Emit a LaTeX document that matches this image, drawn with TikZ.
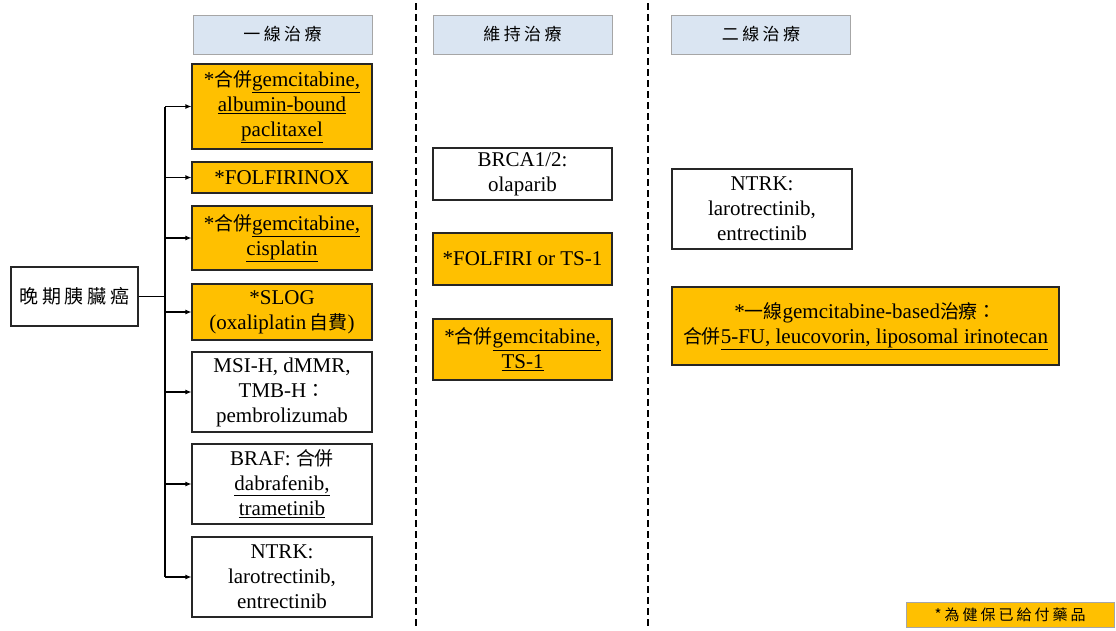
\documentclass[tikz,border=0pt]{standalone}
\usepackage{fontspec}
\setmainfont{Liberation Serif}
\newfontfamily\cjk[Scale=0.9]{Noto Sans CJK TC}
\newfontfamily\cjkwide[LetterSpace=20]{Noto Sans CJK TC}
\usetikzlibrary{arrows.meta}
\definecolor{drugorange}{HTML}{FFC000}
\definecolor{headblue}{HTML}{DAE5F2}
\definecolor{headline}{HTML}{A6A6A6}
\newcommand{\zh}[1]{{\cjk #1}}

\begin{document}
\begin{tikzpicture}[x=1pt,y=-1pt,
    white_box/.style={draw=black!85,line width=1.1pt,fill=white,align=center,inner sep=0pt,font=\fontsize{21}{25}\selectfont},
    orange_box/.style={white_box,fill=drugorange},
    head_box/.style={draw=headline,line width=1pt,fill=headblue,minimum width=179pt,minimum height=39pt,inner sep=0pt,font=\fontsize{17}{20}\cjkwide},
    link/.style={line width=1.1pt},
    split/.style={line width=1.2pt,dash pattern=on 7pt off 4pt}]
    \useasboundingbox (0,0) rectangle (1116,630);

    % column headers
    \node[head_box] (h1) at (282.5,34.5) {一線治療};
    \node[head_box] (h2) at (522.5,34.5) {維持治療};
    \node[head_box] (h3) at (761,34.5) {二線治療};

    \draw[split] (416,3) -- (416,627);
    \draw[split] (648,3) -- (648,627);

    % first line
    \node[white_box,minimum width=127pt,minimum height=59pt,font=\fontsize{19}{22}\cjkwide] (root) at (74.5,296.5) {晚期胰臟癌};
    \node[orange_box,minimum width=180pt,minimum height=85pt] (l1) at (282,106.5) {*\zh{合併}\underline{gemcitabine,}\\ \underline{albumin-bound}\\ \underline{paclitaxel}};
    \node[orange_box,minimum width=180pt,minimum height=31pt] (l2) at (282,177.5) {*FOLFIRINOX};
    \node[orange_box,minimum width=180pt,minimum height=64pt] (l3) at (282,238) {*\zh{合併}\underline{gemcitabine,}\\ \underline{cisplatin}};
    \node[orange_box,minimum width=180pt,minimum height=56pt] (l4) at (282,312) {*SLOG\\ (oxaliplatin\,\zh{自費})};
    \node[white_box,minimum width=180pt,minimum height=80pt] (l5) at (282,392) {MSI-H, dMMR,\\ TMB-H\zh{：}\\ pembrolizumab};
    \node[white_box,minimum width=180pt,minimum height=80pt] (l6) at (282,484) {BRAF: \zh{合併}\\ \underline{dabrafenib,}\\ \underline{trametinib}};
    \node[white_box,minimum width=180pt,minimum height=80pt] (l7) at (282,577) {NTRK:\\ larotrectinib,\\ entrectinib};

    \coordinate (trunk_top) at (165,106.5);
    \coordinate (trunk_bot) at (165,577);
    \draw[link] (trunk_top) -- (trunk_bot);
    \draw[link] (root.east) -- (root.east -| trunk_top);
    \foreach \n in {1,...,7}
        \draw[link,-{Latex[length=6pt,width=5pt]}] (trunk_top |- l\n.west) -- (l\n.west);

    % maintenance
    \node[white_box,minimum width=179pt,minimum height=52pt] (m1) at (522.5,174) {BRCA1/2:\\ olaparib};
    \node[orange_box,minimum width=179pt,minimum height=52pt] (m2) at (522.5,259) {*FOLFIRI or TS-1};
    \node[orange_box,minimum width=179pt,minimum height=61pt] (m3) at (522.5,349.5) {*\zh{合併}\underline{gemcitabine,}\\ \underline{TS-1}};

    % second line
    \node[white_box,minimum width=180pt,minimum height=80pt] (r1) at (762,209) {NTRK:\\ larotrectinib,\\ entrectinib};
    \node[orange_box,minimum width=387pt,minimum height=78pt] (r2) at (865.5,326) {*\zh{一線}gemcitabine-based\zh{治療：}\\ \zh{合併}\underline{5-FU, leucovorin, liposomal irinotecan}};

    \node[draw=headline,line width=0.8pt,fill=drugorange,minimum width=208pt,minimum height=25pt,inner sep=0pt,font=\fontsize{15}{18}\cjkwide] (note) at (1010,614.5) {*為健保已給付藥品};
\end{tikzpicture}
\end{document}
